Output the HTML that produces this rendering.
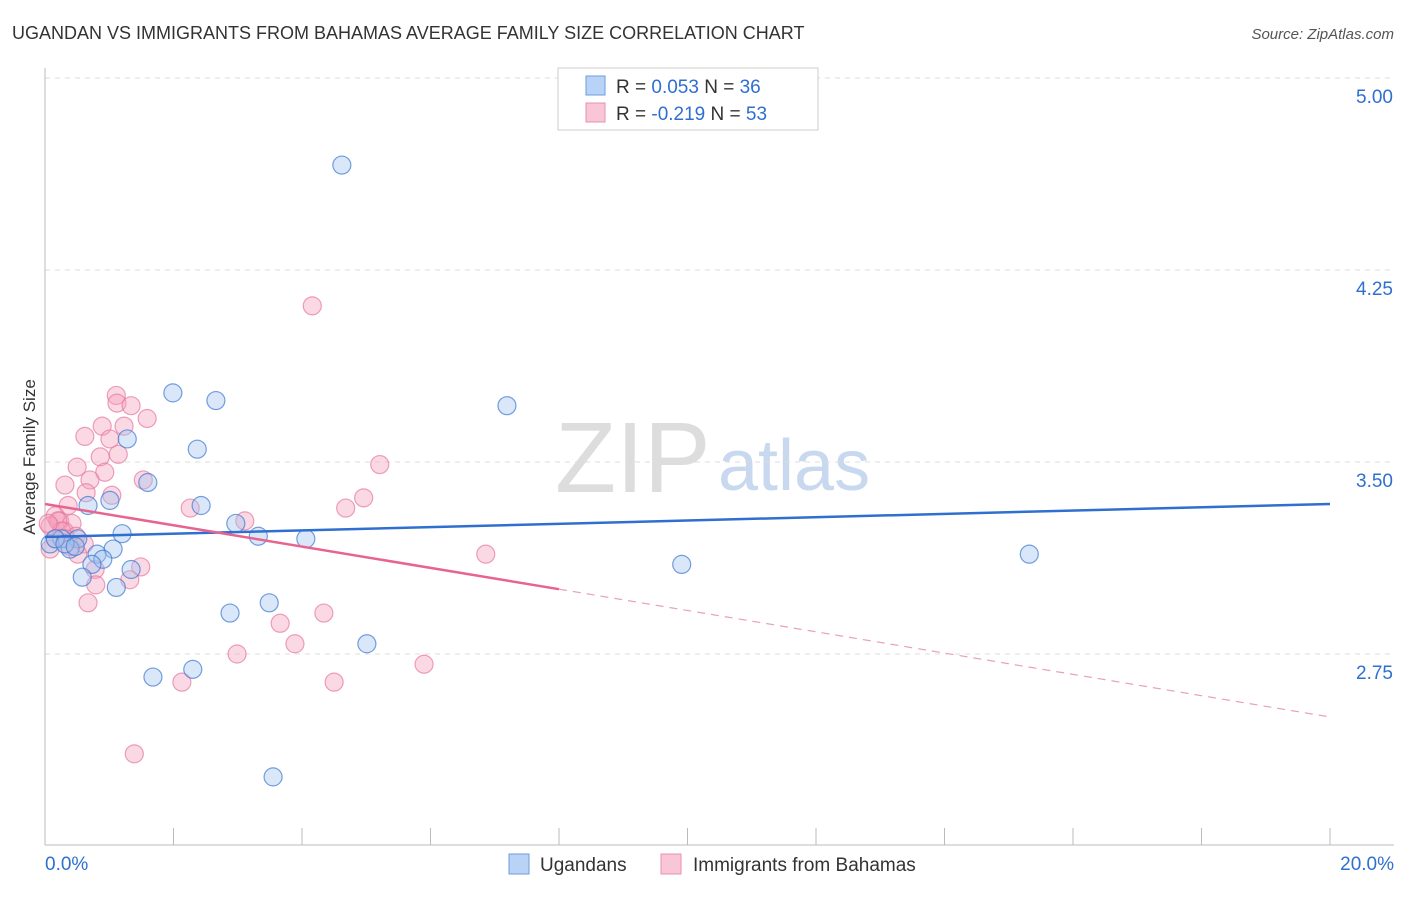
<!DOCTYPE html>
<html><head><meta charset="utf-8"><style>
body{margin:0;background:#fff;font-family:"Liberation Sans",sans-serif}
svg text{font-family:"Liberation Sans",sans-serif}
</style></head><body>
<svg id="chart" width="1406" height="892" xmlns="http://www.w3.org/2000/svg">
<text x="12" y="39" font-size="18" fill="#333">UGANDAN VS IMMIGRANTS FROM BAHAMAS AVERAGE FAMILY SIZE CORRELATION CHART</text>
<text x="1394" y="39" font-size="15" fill="#555" text-anchor="end" font-style="italic">Source: ZipAtlas.com</text>
<text x="35" y="457" font-size="17" fill="#333" text-anchor="middle" transform="rotate(-90 35 457)">Average Family Size</text>
<text x="555" y="492" font-size="100" fill="#ddd" font-family="Liberation Serif">ZIP</text>
<text x="718" y="490" font-size="72" fill="#c8d8ee">atlas</text>
<g id="grid"></g><g id="axes"></g><g id="pts"></g><g id="lines"></g>
<g>
<rect x="558" y="68" width="260" height="62" fill="#fff" stroke="#ccc"/>
<rect x="586" y="76" width="19" height="19" fill="#b8d3f5" stroke="#6a9ee0"/>
<rect x="586" y="103" width="19" height="19" fill="#f8c6d6" stroke="#e890ae"/>
<text x="616" y="93" font-size="19" fill="#333">R = <tspan fill="#2f6fd0">0.053</tspan>   N = <tspan fill="#2f6fd0">36</tspan></text>
<text x="616" y="120" font-size="19" fill="#333">R = <tspan fill="#2f6fd0">-0.219</tspan>   N = <tspan fill="#2f6fd0">53</tspan></text>
</g>
<g>
<rect x="509" y="854" width="20" height="20" fill="#b8d3f5" stroke="#6a9ee0"/>
<text x="540" y="871" font-size="19" fill="#333">Ugandans</text>
<rect x="661" y="854" width="20" height="20" fill="#f8c6d6" stroke="#e890ae"/>
<text x="693" y="871" font-size="19" fill="#333">Immigrants from Bahamas</text>
</g>
</svg>
<script>
const yTicks=[5.00,4.25,3.50,2.75];
const yTickLabels=["5.00","4.25","3.50","2.75"];
const xTickLabels=["0.0%","20.0%"];
const blueX=[4.62,1.99,2.66,7.19,2.37,1.28,1.60,1.01,0.67,2.43,2.97,1.20,3.32,4.06,0.51,0.26,0.08,0.39,1.06,0.81,0.90,0.73,9.91,15.32,0.58,1.34,1.11,2.88,3.49,5.01,2.30,1.68,3.55,0.16,0.31,0.47];
const blueY=[4.66,3.77,3.74,3.72,3.55,3.59,3.42,3.35,3.33,3.33,3.26,3.22,3.21,3.20,3.20,3.20,3.18,3.16,3.16,3.14,3.12,3.10,3.10,3.14,3.05,3.08,3.01,2.91,2.95,2.79,2.69,2.66,2.27,3.20,3.18,3.17];
const pinkX=[4.16,1.11,1.12,1.34,1.59,0.89,1.23,0.62,1.01,0.86,1.14,0.50,0.93,5.21,1.53,0.70,0.31,1.04,0.64,4.96,0.36,2.26,4.68,3.11,0.16,0.23,0.42,0.08,0.30,0.48,0.61,0.16,0.08,0.51,6.86,1.49,0.78,1.32,0.79,0.67,4.34,3.66,3.89,2.99,5.90,2.13,4.50,1.39,0.20,0.26,0.39,0.05,0.33];
const pinkY=[4.11,3.76,3.73,3.72,3.67,3.64,3.64,3.60,3.59,3.52,3.53,3.48,3.46,3.49,3.43,3.43,3.41,3.37,3.38,3.36,3.33,3.32,3.32,3.27,3.29,3.27,3.26,3.25,3.23,3.21,3.18,3.20,3.16,3.14,3.14,3.09,3.08,3.04,3.02,2.95,2.91,2.87,2.79,2.75,2.71,2.64,2.64,2.36,3.27,3.23,3.17,3.26,3.20];
const blueTrend=[3.207,0.00645];
const pinkTrend=[3.336,-0.0416];
const pinkSolidEnd=8;
const NS="http://www.w3.org/2000/svg";
const sx=v=>45+v/20*1285, sy=v=>78+(5-v)*256;
function mk(tag,attrs,parent){const e=document.createElementNS(NS,tag);for(const k in attrs)e.setAttribute(k,attrs[k]);document.getElementById(parent).appendChild(e);return e;}
yTicks.forEach((t,i)=>{
 const l=mk('line',{x1:45,x2:1394,y1:sy(t),y2:sy(t),stroke:'#ddd','stroke-dasharray':'5,5'},'grid');
 
 
 const tx=mk('text',{x:1393,y:sy(t)+25,'font-size':19,fill:'#2f6fd0','text-anchor':'end'},'grid');
 tx.textContent=yTickLabels[i];
 
 
});
const ax=mk('line',{x1:45,x2:45,y1:68,y2:845,stroke:'#bbb'},'axes');


const bx=mk('line',{x1:45,x2:1394,y1:845,y2:845,stroke:'#bbb'},'axes');


for(let i=0;i<=10;i++){
 const t=mk('line',{x1:sx(i*2),x2:sx(i*2),y1:828,y2:845,stroke:'#bbb'},'axes');
 
 
}
[[0,'start',45],[20,'end',1394]].forEach((d,i)=>{
 const t=mk('text',{x:d[2],y:870,'font-size':19,fill:'#2f6fd0','text-anchor':d[1]},'axes');
 t.textContent=xTickLabels[i];
 
 
});
pinkX.forEach((x,i)=>{
 const c=mk('circle',{cx:sx(x),cy:sy(pinkY[i]),r:9,fill:'rgba(244,160,188,0.4)',stroke:'rgba(230,120,160,0.7)','stroke-width':1.2},'pts');
 
 
});
blueX.forEach((x,i)=>{
 const c=mk('circle',{cx:sx(x),cy:sy(blueY[i]),r:9,fill:'rgba(160,196,240,0.4)',stroke:'rgba(60,120,210,0.7)','stroke-width':1.2},'pts');
 
 
});
const bl=mk('line',{x1:sx(0),y1:sy(blueTrend[0]),x2:sx(20),y2:sy(blueTrend[0]+20*blueTrend[1]),stroke:'#2f6fd0','stroke-width':2.5},'lines');


const pl=mk('line',{x1:sx(0),y1:sy(pinkTrend[0]),x2:sx(pinkSolidEnd),y2:sy(pinkTrend[0]+pinkSolidEnd*pinkTrend[1]),stroke:'#e8648f','stroke-width':2.5},'lines');


const pd=mk('line',{x1:sx(pinkSolidEnd),y1:sy(pinkTrend[0]+pinkSolidEnd*pinkTrend[1]),x2:sx(20),y2:sy(pinkTrend[0]+20*pinkTrend[1]),stroke:'#e8a0b8','stroke-width':1.2,'stroke-dasharray':'8,6'},'lines');


</script>
</body></html>
